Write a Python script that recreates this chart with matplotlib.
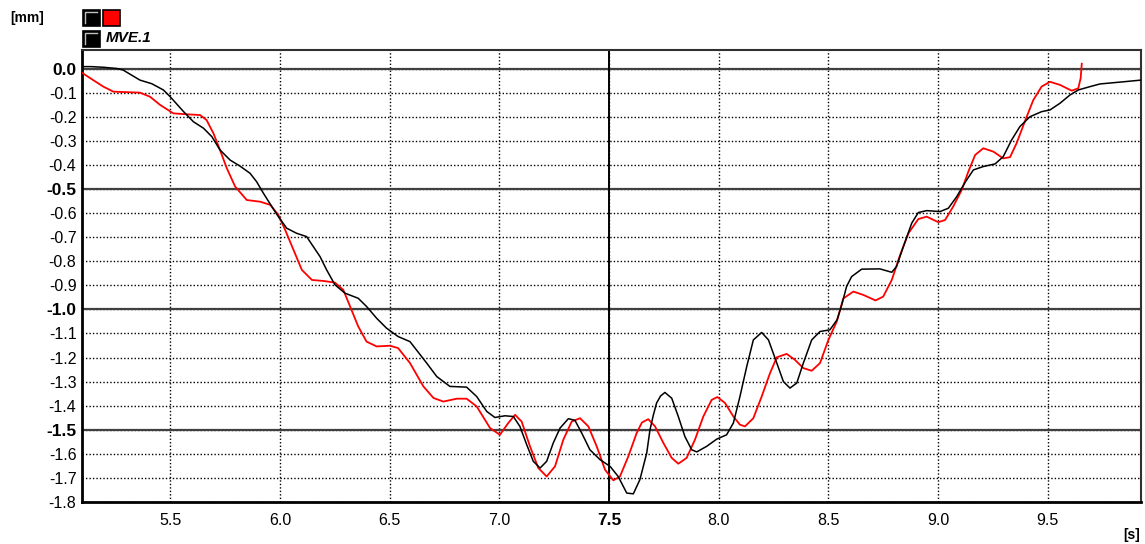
import numpy as np
import matplotlib
matplotlib.use("Agg")
import matplotlib.pyplot as plt
from matplotlib.patches import Rectangle

# --- data ------------------------------------------------------------------
black_t = [5.10, 5.14, 5.20, 5.258, 5.285, 5.362, 5.416, 5.469, 5.5, 5.561,
           5.606, 5.652, 5.690, 5.727, 5.773, 5.818, 5.864, 5.894, 5.925, 5.963,
           5.993, 6.031, 6.076, 6.122, 6.152, 6.183, 6.213, 6.251, 6.297, 6.357,
           6.395, 6.441, 6.486, 6.539, 6.593, 6.669, 6.715, 6.775, 6.851, 6.897,
           6.943, 6.980, 7.026, 7.064, 7.094, 7.125, 7.155, 7.186, 7.216, 7.246,
           7.277, 7.315, 7.345, 7.376, 7.413, 7.459, 7.505, 7.542, 7.581, 7.611,
           7.641, 7.672, 7.687, 7.702, 7.717, 7.735, 7.755, 7.786, 7.816, 7.846,
           7.877, 7.900, 7.945, 7.991, 8.036, 8.067, 8.097, 8.128, 8.158, 8.196,
           8.227, 8.265, 8.295, 8.325, 8.356, 8.386, 8.424, 8.462, 8.507, 8.540,
           8.561, 8.583, 8.606, 8.652, 8.735, 8.789, 8.811, 8.842, 8.880, 8.910,
           8.948, 9.009, 9.047, 9.085, 9.125, 9.161, 9.206, 9.260, 9.297, 9.335,
           9.373, 9.419, 9.472, 9.510, 9.556, 9.601, 9.639, 9.693, 9.738, 9.845,
           9.925]
black_y = [0.008, 0.008, 0.005, 0.0, -0.006, -0.048, -0.063, -0.089, -0.117, -0.179,
           -0.221, -0.248, -0.283, -0.338, -0.380, -0.405, -0.435, -0.470, -0.518, -0.573,
           -0.615, -0.663, -0.684, -0.698, -0.739, -0.781, -0.836, -0.898, -0.933, -0.954,
           -0.988, -1.037, -1.078, -1.113, -1.134, -1.223, -1.279, -1.320, -1.323, -1.362,
           -1.424, -1.449, -1.442, -1.445, -1.486, -1.562, -1.631, -1.659, -1.631, -1.555,
           -1.493, -1.454, -1.461, -1.514, -1.583, -1.624, -1.652, -1.694, -1.763, -1.766,
           -1.707, -1.597, -1.500, -1.440, -1.389, -1.360, -1.345, -1.369, -1.445, -1.528,
           -1.583, -1.592, -1.569, -1.539, -1.521, -1.472, -1.362, -1.237, -1.127, -1.096,
           -1.127, -1.223, -1.300, -1.327, -1.306, -1.223, -1.127, -1.092, -1.085, -1.043,
           -0.981, -0.905, -0.864, -0.833, -0.832, -0.846, -0.822, -0.739, -0.642, -0.598,
           -0.590, -0.594, -0.580, -0.532, -0.470, -0.421, -0.407, -0.396, -0.366, -0.297,
           -0.241, -0.200, -0.179, -0.172, -0.144, -0.110, -0.089, -0.075, -0.064, -0.055,
           -0.048]

red_t = [5.097, 5.149, 5.195, 5.241, 5.362, 5.408, 5.454, 5.514, 5.575, 5.636,
         5.666, 5.697, 5.727, 5.758, 5.796, 5.849, 5.910, 5.956, 5.993, 6.024,
         6.062, 6.100, 6.146, 6.198, 6.251, 6.289, 6.320, 6.357, 6.395, 6.441,
         6.502, 6.539, 6.593, 6.654, 6.700, 6.745, 6.806, 6.851, 6.897, 6.958,
         7.003, 7.041, 7.072, 7.102, 7.140, 7.178, 7.216, 7.254, 7.292, 7.330,
         7.368, 7.406, 7.444, 7.482, 7.520, 7.550, 7.588, 7.626, 7.650, 7.679,
         7.710, 7.748, 7.786, 7.816, 7.854, 7.892, 7.930, 7.968, 7.994, 8.029,
         8.067, 8.097, 8.120, 8.158, 8.196, 8.234, 8.265, 8.310, 8.348, 8.386,
         8.424, 8.462, 8.500, 8.538, 8.568, 8.614, 8.659, 8.715, 8.750, 8.789,
         8.827, 8.865, 8.910, 8.948, 9.001, 9.032, 9.069, 9.108, 9.138, 9.169,
         9.206, 9.252, 9.297, 9.328, 9.358, 9.398, 9.434, 9.472, 9.510, 9.556,
         9.609, 9.639, 9.650, 9.655]
red_y = [-0.017, -0.048, -0.075, -0.096, -0.100, -0.117, -0.151, -0.186, -0.190, -0.193,
         -0.214, -0.269, -0.338, -0.414, -0.490, -0.546, -0.553, -0.566, -0.608, -0.670,
         -0.753, -0.836, -0.878, -0.882, -0.889, -0.919, -0.988, -1.071, -1.134, -1.154,
         -1.151, -1.161, -1.223, -1.320, -1.368, -1.383, -1.371, -1.371, -1.403, -1.493,
         -1.521, -1.472, -1.438, -1.466, -1.569, -1.659, -1.694, -1.652, -1.541, -1.466,
         -1.452, -1.486, -1.569, -1.666, -1.710, -1.694, -1.611, -1.514, -1.470, -1.456,
         -1.486, -1.555, -1.617, -1.641, -1.617, -1.541, -1.445, -1.376, -1.364, -1.389,
         -1.445, -1.479, -1.486, -1.452, -1.362, -1.265, -1.199, -1.185, -1.210, -1.244,
         -1.255, -1.223, -1.127, -1.051, -0.955, -0.926, -0.940, -0.963, -0.947, -0.878,
         -0.774, -0.684, -0.625, -0.615, -0.638, -0.629, -0.573, -0.504, -0.428, -0.359,
         -0.331, -0.345, -0.373, -0.368, -0.310, -0.214, -0.131, -0.075, -0.055, -0.068,
         -0.092, -0.082, -0.040, 0.02]

x_ticks = [5.5, 6.0, 6.5, 7.0, 7.5, 8.0, 8.5, 9.0, 9.5]
y_ticks = [round(-0.1 * i, 1) for i in range(19)]
y_major = [0.0, -0.5, -1.0, -1.5]
cursor_t = 7.5
legend_name = "MVE.1"

W, H = 1145, 544
fig = plt.figure(figsize=(W / 100, H / 100), dpi=100)
fig.patch.set_facecolor("white")

# axes box in pixels: left 82, right 1141, top 50, bottom 502
ax = fig.add_axes([82 / W, 1 - 502 / H, (1141 - 82) / W, (502 - 50) / H])
ax.set_xlim(5.098, 9.925)
ax.set_ylim(-1.8, 0.077)

ax.grid(True, color="black", ls=(0, (1, 1.5)), lw=1.0)
for v in y_major:
    ax.axhline(v, color="#404040", lw=1.6, zorder=2)
ax.axvline(cursor_t, color="black", lw=1.4, zorder=2)

ax.plot(black_t, black_y, color="black", lw=1.1, zorder=4)
ax.plot(red_t, red_y, color="#ff0000", lw=1.3, zorder=3)

ax.set_xticks(x_ticks)
ax.set_xticklabels([f"{v:.1f}" for v in x_ticks])
ax.set_yticks(y_ticks)
ax.set_yticklabels([f"{v:.1f}".replace("-0.0", "0.0") for v in y_ticks])
ax.tick_params(length=0, labelsize=11.5, pad=4)
ax.tick_params(axis="x", pad=8)
for lab, v in zip(ax.get_yticklabels(), y_ticks):
    lab.set_fontfamily("Liberation Sans")
    if v in y_major:
        lab.set_fontweight("bold")
        lab.set_fontsize(12.5)
for lab, v in zip(ax.get_xticklabels(), x_ticks):
    lab.set_fontfamily("Liberation Sans")
    if v == cursor_t:
        lab.set_fontweight("bold")
        lab.set_fontsize(12.5)

for s in ["left", "bottom"]:
    ax.spines[s].set_linewidth(2.0)
for s in ["top", "right"]:
    ax.spines[s].set_linewidth(1.5)
    ax.spines[s].set_color("#303030")

# units
fig.text(10 / W, 1 - 18 / H, "[mm]", fontsize=10, fontweight="bold",
         family="Liberation Sans", va="center", ha="left")
fig.text(1140 / W, 1 - 535 / H, "[s]", fontsize=10, fontweight="bold",
         family="Liberation Sans", va="center", ha="right")

# legend boxes
def box(x0, y0, x1, y1, color):
    fig.patches.append(Rectangle((x0 / W, 1 - y1 / H), (x1 - x0) / W, (y1 - y0) / H,
                                 transform=fig.transFigure, facecolor=color,
                                 edgecolor="black", lw=1.2))

box(83, 10, 100, 26, "black")
box(103, 10, 120, 26, "#ff0000")
box(83, 31, 100, 47, "black")
for y0 in (10, 31):
    fig.lines.append(plt.Line2D([85 / W, 85 / W, 97 / W],
                                [1 - (y0 + 13) / H, 1 - (y0 + 2) / H, 1 - (y0 + 2) / H],
                                transform=fig.transFigure, color="#c0c0c0", lw=1))
fig.text(106 / W, 1 - 38.5 / H, legend_name, fontsize=11, fontweight="bold",
         style="italic", family="Liberation Sans", va="center", ha="left")

fig.savefig("out.png", dpi=100, facecolor="white")
